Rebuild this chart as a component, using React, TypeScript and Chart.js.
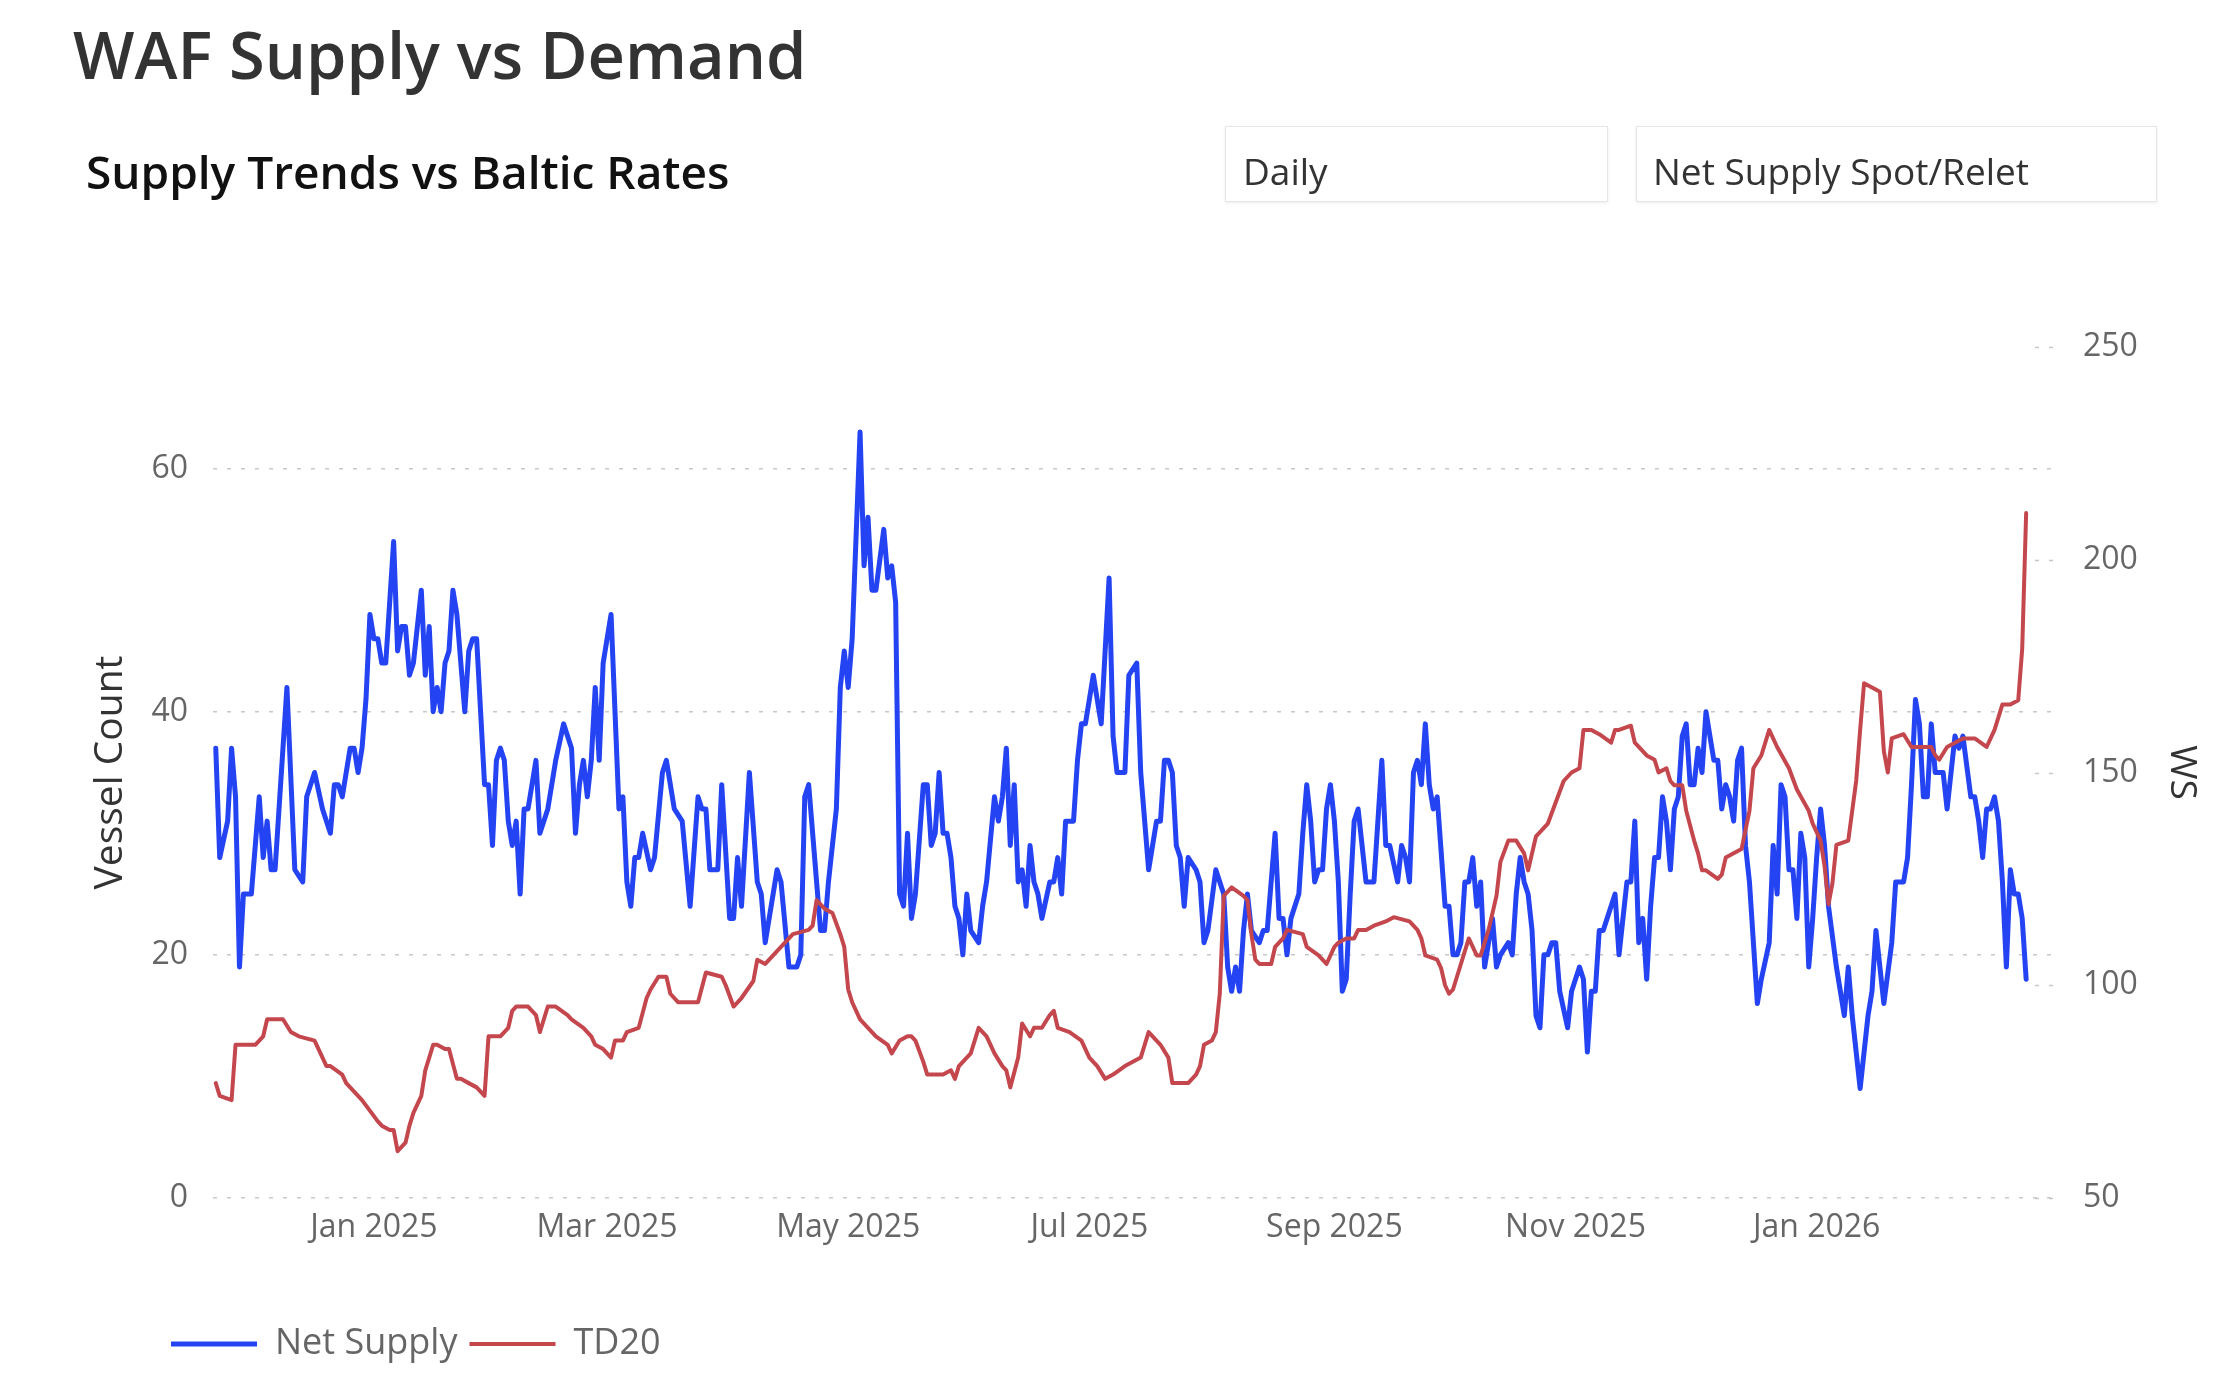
import React, { useEffect, useRef } from "react";
import { Chart, registerables } from "chart.js";

Chart.register(...registerables);

// Day index relative to 1 Jan 2025
const xTickDays = [0, 59, 120, 181, 243, 304, 365];
const xTickLabels = ["Jan 2025", "Mar 2025", "May 2025", "Jul 2025", "Sep 2025", "Nov 2025", "Jan 2026"];
const leftTicks = [0, 20, 40, 60];
const rightTicks = [50, 100, 150, 200, 250];

const netSupplyDays = [
  -40, -39, -37, -36, -35, -34, -33, -31, -29, -28, -27, -26, -25, -22, -20, -18, -17, -15, -13, -11,
  -10, -9, -8, -6, -5, -4, -3, -2, -1, 0, 1, 2, 3, 5, 6, 7, 8, 9, 10, 12,
  13, 14, 15, 16, 17, 18, 19, 20, 21, 23, 24, 25, 26, 28, 29, 30, 31, 32, 33, 34,
  35, 36, 37, 38, 39, 41, 42, 44, 46, 48, 50, 51, 52, 53, 54, 55, 56, 57, 58, 60,
  62, 63, 64, 65, 66, 67, 68, 70, 71, 73, 74, 76, 78, 80, 82, 83, 84, 85, 86, 87,
  88, 90, 91, 92, 93, 95, 97, 98, 99, 102, 103, 105, 107, 108, 109, 110, 111, 113, 114, 115,
  117, 118, 119, 120, 121, 123, 124, 125, 126, 127, 129, 130, 131, 132, 133, 134, 135, 136, 137, 139,
  140, 141, 142, 143, 144, 145, 146, 147, 148, 149, 150, 151, 153, 154, 155, 157, 158, 159, 160, 161,
  162, 163, 164, 165, 166, 167, 168, 169, 171, 172, 173, 174, 175, 177, 178, 179, 180, 182, 183, 184,
  186, 187, 188, 190, 191, 193, 194, 196, 198, 199, 200, 201, 202, 203, 204, 205, 206, 208, 209, 210,
  211, 213, 214, 215, 216, 217, 218, 219, 220, 221, 222, 224, 225, 226, 227, 228, 229, 230, 231, 232,
  234, 235, 236, 237, 238, 239, 240, 241, 242, 243, 244, 245, 246, 247, 248, 249, 250, 251, 253, 254,
  255, 256, 257, 259, 260, 261, 262, 263, 264, 265, 266, 267, 268, 269, 271, 272, 273, 274, 275, 276,
  277, 278, 279, 280, 281, 282, 283, 284, 285, 287, 288, 289, 290, 291, 292, 293, 294, 295, 296, 297,
  298, 299, 300, 302, 303, 305, 306, 307, 308, 309, 310, 311, 312, 314, 315, 316, 317, 318, 319, 320,
  321, 322, 323, 324, 325, 326, 327, 328, 329, 330, 331, 332, 333, 334, 335, 336, 337, 338, 339, 340,
  341, 342, 343, 344, 345, 346, 347, 348, 349, 350, 351, 353, 354, 355, 356, 357, 358, 359, 360, 361,
  362, 363, 364, 365, 366, 367, 368, 370, 372, 373, 374, 376, 378, 379, 380, 381, 382, 384, 385, 387,
  388, 389, 390, 391, 392, 393, 394, 395, 396, 397, 398, 399, 400, 401, 402, 404, 405, 406, 407, 408,
  409, 410, 411, 412, 413, 414, 415, 416, 417, 418,
];
const netSupplyValues = [
  37, 28, 31, 37, 33, 19, 25, 25, 33, 28, 31, 27, 27, 42, 27, 26, 33, 35, 32, 30,
  34, 34, 33, 37, 37, 35, 37, 41, 48, 46, 46, 44, 44, 54, 45, 47, 47, 43, 44, 50,
  43, 47, 40, 42, 40, 44, 45, 50, 48, 40, 45, 46, 46, 34, 34, 29, 36, 37, 36, 31,
  29, 31, 25, 32, 32, 36, 30, 32, 36, 39, 37, 30, 34, 36, 33, 36, 42, 36, 44, 48,
  32, 33, 26, 24, 28, 28, 30, 27, 28, 35, 36, 32, 31, 24, 33, 32, 32, 27, 27, 27,
  34, 23, 23, 28, 24, 35, 26, 25, 21, 27, 26, 19, 19, 20, 33, 34, 30, 22, 22, 26,
  32, 42, 45, 42, 46, 63, 52, 56, 50, 50, 55, 51, 52, 49, 25, 24, 30, 23, 25, 34,
  34, 29, 30, 35, 30, 30, 28, 24, 23, 20, 25, 22, 21, 24, 26, 33, 31, 33, 37, 29,
  34, 26, 27, 24, 29, 26, 25, 23, 26, 26, 28, 25, 31, 31, 36, 39, 39, 43, 41, 39,
  51, 38, 35, 35, 43, 44, 35, 27, 31, 31, 36, 36, 35, 29, 28, 24, 28, 27, 26, 21,
  22, 27, 26, 25, 19, 17, 19, 17, 22, 25, 22, 21, 22, 22, 26, 30, 23, 23, 20, 23,
  25, 30, 34, 31, 26, 27, 27, 32, 34, 31, 26, 17, 18, 25, 31, 32, 29, 26, 26, 31,
  36, 29, 29, 26, 29, 28, 26, 35, 36, 34, 39, 34, 32, 33, 24, 24, 20, 20, 21, 26,
  26, 28, 24, 26, 19, 21, 23, 19, 20, 21, 20, 25, 28, 26, 25, 22, 15, 14, 20, 20,
  21, 21, 17, 14, 17, 19, 18, 12, 17, 17, 22, 22, 23, 25, 20, 23, 26, 26, 31, 21,
  23, 18, 24, 28, 28, 33, 31, 27, 32, 33, 38, 39, 34, 34, 37, 35, 40, 38, 36, 36,
  32, 34, 33, 31, 36, 37, 29, 26, 21, 16, 18, 21, 29, 25, 34, 33, 27, 27, 23, 30,
  28, 19, 23, 28, 32, 29, 24, 19, 15, 19, 15, 9, 15, 17, 22, 19, 16, 21, 26, 26,
  28, 34, 41, 39, 33, 33, 39, 35, 35, 35, 32, 35, 38, 37, 38, 33, 33, 31, 28, 32,
  32, 33, 31, 26, 19, 27, 25, 25, 23, 18,
];

const td20Days = [
  -40, -39, -36, -35, -33, -30, -29, -28, -27, -26, -23, -21, -19, -15, -14, -12, -11, -8, -7, -3,
  1, 2, 4, 5, 6, 8, 9, 10, 12, 13, 15, 16, 18, 19, 21, 22, 24, 26, 28, 29,
  32, 34, 35, 36, 39, 41, 42, 44, 46, 49, 50, 53, 55, 56, 58, 60, 61, 63, 64, 67,
  69, 70, 72, 74, 75, 77, 78, 82, 84, 88, 89, 91, 93, 96, 97, 99, 101, 105, 106, 110,
  111, 112, 114, 116, 118, 119, 120, 121, 123, 125, 127, 130, 131, 133, 135, 136, 137, 139, 140, 141,
  144, 146, 147, 148, 150, 151, 153, 155, 157, 159, 160, 161, 163, 164, 166, 167, 169, 171, 172, 173,
  176, 179, 181, 183, 185, 187, 190, 194, 196, 197, 199, 201, 202, 206, 208, 209, 210, 212, 213, 214,
  215, 217, 220, 221, 222, 223, 224, 227, 228, 230, 231, 235, 236, 239, 241, 243, 244, 246, 248, 249,
  251, 253, 256, 258, 262, 264, 265, 266, 269, 270, 271, 272, 273, 275, 277, 278, 279, 280, 282, 284,
  285, 287, 289, 291, 292, 294, 295, 297, 299, 301, 303, 305, 306, 308, 310, 313, 314, 315, 318, 319,
  320, 322, 324, 325, 327, 328, 329, 331, 332, 334, 335, 336, 337, 340, 341, 342, 346, 348, 349, 351,
  353, 355, 358, 360, 363, 364, 366, 367, 368, 369, 370, 373, 375, 376, 377, 379, 381, 382, 383, 384,
  387, 389, 390, 394, 395, 396, 398, 400, 402, 405, 408, 410, 412, 414, 416, 417, 418,
];
const td20Values = [
  77, 74, 73, 86, 86, 86, 87, 88, 92, 92, 92, 89, 88, 87, 85, 81, 81, 79, 77, 73,
  68, 67, 66, 66, 61, 63, 67, 70, 74, 80, 86, 86, 85, 85, 78, 78, 77, 76, 74, 88,
  88, 90, 94, 95, 95, 93, 89, 95, 95, 93, 92, 90, 88, 86, 85, 83, 87, 87, 89, 90,
  97, 99, 102, 102, 98, 96, 96, 96, 103, 102, 100, 95, 97, 101, 106, 105, 107, 111, 112, 113,
  114, 120, 118, 117, 112, 109, 99, 96, 92, 90, 88, 86, 84, 87, 88, 88, 87, 82, 79, 79,
  79, 80, 78, 81, 83, 84, 90, 88, 84, 81, 80, 76, 83, 91, 88, 90, 90, 93, 94, 90,
  89, 87, 83, 81, 78, 79, 81, 83, 89, 88, 86, 83, 77, 77, 79, 81, 86, 87, 89, 98,
  121, 123, 121, 120, 112, 106, 105, 105, 109, 111, 113, 112, 109, 107, 105, 109, 110, 111, 111, 113,
  113, 114, 115, 116, 115, 113, 111, 107, 106, 104, 100, 98, 99, 105, 111, 109, 107, 107, 113, 121,
  129, 134, 134, 131, 127, 135, 136, 138, 143, 148, 150, 151, 160, 160, 159, 157, 160, 160, 161, 157,
  156, 154, 153, 150, 151, 148, 147, 147, 141, 134, 131, 127, 127, 125, 126, 130, 132, 141, 151, 154,
  160, 156, 151, 146, 141, 138, 134, 128, 119, 124, 133, 134, 148, 160, 171, 170, 169, 155, 150, 158,
  159, 156, 156, 156, 154, 153, 156, 157, 158, 158, 156, 160, 166, 166, 167, 179, 211,
];

const FONT = '"Open Sans", "Noto Sans", sans-serif';
const BLUE = "#2443F2";
const RED = "#C4474E";
const GRID = "#C8C8C8";
const TICK = "#666666";

const rightGridStubs = {
  id: "rightGridStubs",
  beforeDatasetsDraw(chart: any) {
    const s = chart.scales.y1;
    const { ctx, chartArea } = chart;
    ctx.save();
    ctx.strokeStyle = GRID;
    ctx.lineWidth = 1.5;
    ctx.setLineDash([4, 10]);
    s.ticks.forEach((t: any) => {
      const y = Math.round(s.getPixelForValue(t.value)) + 0.5;
      ctx.beginPath();
      ctx.moveTo(chartArea.right - 20, y);
      ctx.lineTo(chartArea.right + 2, y);
      ctx.stroke();
    });
    ctx.restore();
  },
};

// moves the legend row right so it starts under the axis title, as in the reference
const legendShift = {
  id: "legendShift",
  afterLayout(chart: any) {
    const l = chart.legend;
    if (l) {
      l.left += 59;
      l.right += 59;
    }
  },
};

function ChartView() {
  const ref = useRef<HTMLCanvasElement | null>(null);
  useEffect(() => {
    if (!ref.current) return;
    const chart = new Chart(ref.current, {
      type: "line",
      data: {
        datasets: [
          {
            label: "Net Supply",
            data: netSupplyDays.map((d, i) => ({ x: d, y: netSupplyValues[i] })),
            borderColor: BLUE,
            backgroundColor: BLUE,
            borderWidth: 5,
            borderCapStyle: "round",
            borderJoinStyle: "round",
            pointRadius: 0,
            tension: 0,
            yAxisID: "y",
            order: 1,
          },
          {
            label: "TD20",
            data: td20Days.map((d, i) => ({ x: d, y: td20Values[i] })),
            borderColor: RED,
            backgroundColor: RED,
            borderWidth: 4,
            borderCapStyle: "round",
            borderJoinStyle: "round",
            pointRadius: 0,
            tension: 0,
            yAxisID: "y1",
            order: 0,
          },
        ],
      },
      options: {
        animation: false,
        responsive: true,
        maintainAspectRatio: false,
        layout: { padding: { left: 100, right: 0, top: 347, bottom: 24 } },
        plugins: {
          legend: {
            position: "bottom",
            align: "start",
            labels: {
              usePointStyle: true,
              pointStyle: "line",
              pointStyleWidth: 86,
              padding: 12,
              color: TICK,
              font: { family: FONT, size: 36 },
              sort: (a: any, b: any) => a.datasetIndex - b.datasetIndex,
            },
          },
          tooltip: { enabled: false },
        },
        scales: {
          x: {
            type: "linear",
            min: -40.7,
            max: 425.3,
            afterBuildTicks: (s: any) => {
              s.ticks = xTickDays.map((v) => ({ value: v }));
            },
            afterFit: (s: any) => {
              s.height = 116;
            },
            ticks: {
              callback: (_v: any, i: number) => xTickLabels[i],
              autoSkip: false,
              maxRotation: 0,
              color: TICK,
              padding: 3,
              font: { family: FONT, size: 32 },
            },
            grid: { display: false },
            border: { display: false },
          },
          y: {
            position: "left",
            min: 0,
            max: 70,
            afterBuildTicks: (s: any) => {
              s.ticks = leftTicks.map((v) => ({ value: v }));
            },
            afterFit: (s: any) => {
              s.width = 113;
            },
            ticks: { color: TICK, padding: 25, font: { family: FONT, size: 32 } },
            grid: { color: GRID, lineWidth: 1.5, drawTicks: false },
            border: { display: false, dash: [4, 10] },
            title: {
              display: true,
              text: "Vessel Count",
              color: "#333333",
              font: { family: FONT, size: 39 },
              padding: { top: -12.4, bottom: 0 },
            },
          },
          y1: {
            position: "right",
            min: 50,
            max: 250,
            afterBuildTicks: (s: any) => {
              s.ticks = rightTicks.map((v) => ({ value: v }));
            },
            afterFit: (s: any) => {
              s.width = 169;
            },
            ticks: { color: TICK, padding: 28, font: { family: FONT, size: 32 } },
            grid: { drawOnChartArea: false, drawTicks: false },
            border: { display: false },
            title: {
              display: true,
              text: "WS",
              color: "#333333",
              font: { family: FONT, size: 37 },
              padding: { top: 20, bottom: 0 },
            },
          },
        },
      },
      plugins: [rightGridStubs, legendShift],
    } as any);
    return () => chart.destroy();
  }, []);
  return <canvas ref={ref} />;
}

const boxStyle: React.CSSProperties = {
  position: "absolute",
  top: 126,
  height: 76,
  boxSizing: "border-box",
  border: "1px solid #E6E6E6",
  boxShadow: "0 1px 3px rgba(0,0,0,0.08)",
  background: "#fff",
};
const boxText: React.CSSProperties = {
  position: "absolute",
  top: 25,
  fontFamily: FONT,
  fontSize: 37,
  lineHeight: 1,
  color: "#333333",
  whiteSpace: "nowrap",
};

export default function App() {
  return (
    <div
      style={{
        position: "fixed",
        left: 0,
        top: 0,
        width: 2224,
        height: 1396,
        background: "#ffffff",
        overflow: "hidden",
      }}
    >
      <div style={{ position: "absolute", left: 0, top: 0, width: 2224, height: 1396 }}>
        <ChartView />
      </div>
      <div
        style={{
          position: "absolute",
          left: 73,
          top: 22,
          fontFamily: FONT,
          fontWeight: 600,
          fontSize: 65,
          lineHeight: 1,
          color: "#333333",
          whiteSpace: "nowrap",
        }}
      >
        WAF Supply vs Demand
      </div>
      <div
        style={{
          position: "absolute",
          left: 86,
          top: 148,
          fontFamily: FONT,
          fontWeight: 600,
          fontSize: 46,
          lineHeight: 1,
          color: "#111111",
          whiteSpace: "nowrap",
        }}
      >
        Supply Trends vs Baltic Rates
      </div>
      <div style={{ ...boxStyle, left: 1225, width: 383 }}>
        <span style={{ ...boxText, left: 17 }}>Daily</span>
      </div>
      <div style={{ ...boxStyle, left: 1636, width: 521 }}>
        <span style={{ ...boxText, left: 16 }}>Net Supply Spot/Relet</span>
      </div>
    </div>
  );
}
